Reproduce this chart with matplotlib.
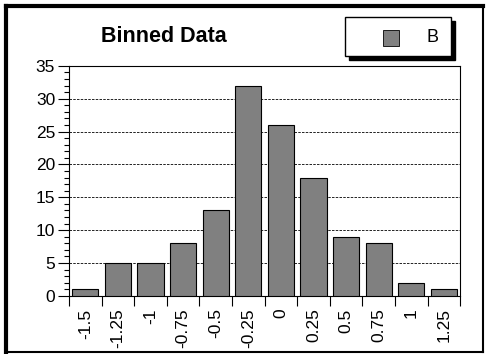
import numpy as np
import matplotlib.pyplot as plt
from matplotlib.patches import Rectangle
from matplotlib.ticker import MultipleLocator

plt.rcParams['font.family'] = ['Liberation Sans', 'DejaVu Sans']

# binned data
bins = ['-1.5', '-1.25', '-1', '-0.75', '-0.5', '-0.25', '0', '0.25', '0.5', '0.75', '1', '1.25']
counts = [1, 5, 5, 8, 13, 32, 26, 18, 9, 8, 2, 1]

fig = plt.figure(figsize=(4.86, 3.54), dpi=100)
ax = fig.add_axes([0.142, 0.164, 0.805, 0.650])

x = np.arange(len(bins))
ax.bar(x, counts, width=0.8, color='#808080', edgecolor='black', linewidth=0.8, zorder=3)

ax.set_xlim(-0.5, len(bins) - 0.5)
ax.set_ylim(0, 35)

ax.yaxis.set_major_locator(MultipleLocator(5))
ax.yaxis.set_minor_locator(MultipleLocator(1))
ax.tick_params(axis='y', which='major', direction='out', length=8, width=0.8, labelsize=12.5, pad=2)
ax.tick_params(axis='y', which='minor', direction='out', length=3.8, width=0.8)
ax.grid(axis='y', which='major', linestyle=(0, (3, 1.5)), color='black', linewidth=0.6, zorder=0)

# x ticks on bin edges, labels at bin centers
ax.set_xticks(np.arange(len(bins) + 1) - 0.5)
ax.set_xticklabels([])
ax.set_xticks(x, minor=True)
ax.set_xticklabels(bins, minor=True, rotation=90, fontsize=12.5)
ax.tick_params(axis='x', which='major', direction='out', length=7.5, width=0.8)
ax.tick_params(axis='x', which='minor', length=0, pad=9)

for s in ax.spines.values():
    s.set_linewidth(0.8)

# legend box with drop shadow
W, H = 486, 354


def fr(px, py, pw, ph):
    return (px / W, 1 - (py + ph) / H), pw / W, ph / H


fig.text(164 / W, 1 - 36 / H, 'Binned Data', ha='center', va='center',
         fontsize=15.5, fontweight='bold')

lx, ly, lw, lh = 345, 17, 106, 39
xy, w, h = fr(lx + 4, ly + 4, lw, lh)
fig.patches.append(Rectangle(xy, w, h, transform=fig.transFigure, facecolor='black', edgecolor='black'))
xy, w, h = fr(lx, ly, lw, lh)
fig.patches.append(Rectangle(xy, w, h, transform=fig.transFigure,
                             facecolor='white', edgecolor='black', linewidth=1))
xy, w, h = fr(383, 30, 16, 16)
fig.patches.append(Rectangle(xy, w, h, transform=fig.transFigure,
                             facecolor='#808080', edgecolor='black', linewidth=0.6))
fig.text(426 / W, 1 - 38 / H, 'B', ha='left', va='center', fontsize=13)

# outer frame: thick top/left, thin right/bottom
fig.add_artist(plt.Line2D([6 / W, 6 / W], [2 / H, 1 - 6 / H], transform=fig.transFigure, color='black', linewidth=3))
fig.add_artist(plt.Line2D([6 / W, 1 - 3 / W], [1 - 6 / H, 1 - 6 / H], transform=fig.transFigure, color='black', linewidth=3))
fig.add_artist(plt.Line2D([1 - 3 / W, 1 - 3 / W], [2 / H, 1 - 6 / H], transform=fig.transFigure, color='black', linewidth=1.5))
fig.add_artist(plt.Line2D([6 / W, 1 - 3 / W], [2 / H, 2 / H], transform=fig.transFigure, color='black', linewidth=1.5))

fig.savefig('out.png', dpi=100)
